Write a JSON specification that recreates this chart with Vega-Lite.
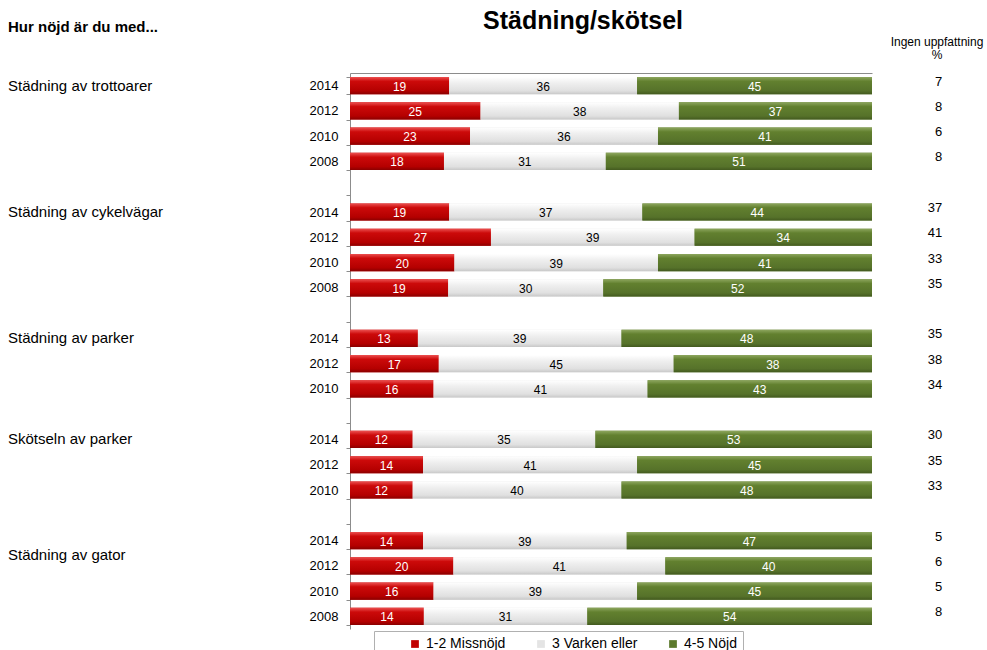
{
  "$schema": "https://vega.github.io/schema/vega-lite/v6.json",
  "padding": {"left": 8, "top": 9, "right": 0, "bottom": 0},
  "bounds": "flush",
  "spacing": 0,
  "config": {
    "view": {"stroke": null},
    "font": "Liberation Sans",
    "title": {"font": "Liberation Sans", "color": "#000000"},
    "axis": {"labelFont": "Liberation Sans", "labelColor": "#000000"},
    "legend": {"labelFont": "Liberation Sans", "labelColor": "#000000"}
  },
  "datasets": {
    "bars": [
      {"k": "Städning av trottoarer|2014", "cat": "1-2 Missnöjd", "v": 19},
      {"k": "Städning av trottoarer|2014", "cat": "3 Varken eller", "v": 36},
      {"k": "Städning av trottoarer|2014", "cat": "4-5 Nöjd", "v": 45},
      {"k": "Städning av trottoarer|2012", "cat": "1-2 Missnöjd", "v": 25},
      {"k": "Städning av trottoarer|2012", "cat": "3 Varken eller", "v": 38},
      {"k": "Städning av trottoarer|2012", "cat": "4-5 Nöjd", "v": 37},
      {"k": "Städning av trottoarer|2010", "cat": "1-2 Missnöjd", "v": 23},
      {"k": "Städning av trottoarer|2010", "cat": "3 Varken eller", "v": 36},
      {"k": "Städning av trottoarer|2010", "cat": "4-5 Nöjd", "v": 41},
      {"k": "Städning av trottoarer|2008", "cat": "1-2 Missnöjd", "v": 18},
      {"k": "Städning av trottoarer|2008", "cat": "3 Varken eller", "v": 31},
      {"k": "Städning av trottoarer|2008", "cat": "4-5 Nöjd", "v": 51},
      {"k": "Städning av cykelvägar|2014", "cat": "1-2 Missnöjd", "v": 19},
      {"k": "Städning av cykelvägar|2014", "cat": "3 Varken eller", "v": 37},
      {"k": "Städning av cykelvägar|2014", "cat": "4-5 Nöjd", "v": 44},
      {"k": "Städning av cykelvägar|2012", "cat": "1-2 Missnöjd", "v": 27},
      {"k": "Städning av cykelvägar|2012", "cat": "3 Varken eller", "v": 39},
      {"k": "Städning av cykelvägar|2012", "cat": "4-5 Nöjd", "v": 34},
      {"k": "Städning av cykelvägar|2010", "cat": "1-2 Missnöjd", "v": 20},
      {"k": "Städning av cykelvägar|2010", "cat": "3 Varken eller", "v": 39},
      {"k": "Städning av cykelvägar|2010", "cat": "4-5 Nöjd", "v": 41},
      {"k": "Städning av cykelvägar|2008", "cat": "1-2 Missnöjd", "v": 19},
      {"k": "Städning av cykelvägar|2008", "cat": "3 Varken eller", "v": 30},
      {"k": "Städning av cykelvägar|2008", "cat": "4-5 Nöjd", "v": 52},
      {"k": "Städning av parker|2014", "cat": "1-2 Missnöjd", "v": 13},
      {"k": "Städning av parker|2014", "cat": "3 Varken eller", "v": 39},
      {"k": "Städning av parker|2014", "cat": "4-5 Nöjd", "v": 48},
      {"k": "Städning av parker|2012", "cat": "1-2 Missnöjd", "v": 17},
      {"k": "Städning av parker|2012", "cat": "3 Varken eller", "v": 45},
      {"k": "Städning av parker|2012", "cat": "4-5 Nöjd", "v": 38},
      {"k": "Städning av parker|2010", "cat": "1-2 Missnöjd", "v": 16},
      {"k": "Städning av parker|2010", "cat": "3 Varken eller", "v": 41},
      {"k": "Städning av parker|2010", "cat": "4-5 Nöjd", "v": 43},
      {"k": "Skötseln av parker|2014", "cat": "1-2 Missnöjd", "v": 12},
      {"k": "Skötseln av parker|2014", "cat": "3 Varken eller", "v": 35},
      {"k": "Skötseln av parker|2014", "cat": "4-5 Nöjd", "v": 53},
      {"k": "Skötseln av parker|2012", "cat": "1-2 Missnöjd", "v": 14},
      {"k": "Skötseln av parker|2012", "cat": "3 Varken eller", "v": 41},
      {"k": "Skötseln av parker|2012", "cat": "4-5 Nöjd", "v": 45},
      {"k": "Skötseln av parker|2010", "cat": "1-2 Missnöjd", "v": 12},
      {"k": "Skötseln av parker|2010", "cat": "3 Varken eller", "v": 40},
      {"k": "Skötseln av parker|2010", "cat": "4-5 Nöjd", "v": 48},
      {"k": "Städning av gator|2014", "cat": "1-2 Missnöjd", "v": 14},
      {"k": "Städning av gator|2014", "cat": "3 Varken eller", "v": 39},
      {"k": "Städning av gator|2014", "cat": "4-5 Nöjd", "v": 47},
      {"k": "Städning av gator|2012", "cat": "1-2 Missnöjd", "v": 20},
      {"k": "Städning av gator|2012", "cat": "3 Varken eller", "v": 41},
      {"k": "Städning av gator|2012", "cat": "4-5 Nöjd", "v": 40},
      {"k": "Städning av gator|2010", "cat": "1-2 Missnöjd", "v": 16},
      {"k": "Städning av gator|2010", "cat": "3 Varken eller", "v": 39},
      {"k": "Städning av gator|2010", "cat": "4-5 Nöjd", "v": 45},
      {"k": "Städning av gator|2008", "cat": "1-2 Missnöjd", "v": 14},
      {"k": "Städning av gator|2008", "cat": "3 Varken eller", "v": 31},
      {"k": "Städning av gator|2008", "cat": "4-5 Nöjd", "v": 54}
    ],
    "ingen": [
      {"k": "Städning av trottoarer|2014", "n": 7},
      {"k": "Städning av trottoarer|2012", "n": 8},
      {"k": "Städning av trottoarer|2010", "n": 6},
      {"k": "Städning av trottoarer|2008", "n": 8},
      {"k": "Städning av cykelvägar|2014", "n": 37},
      {"k": "Städning av cykelvägar|2012", "n": 41},
      {"k": "Städning av cykelvägar|2010", "n": 33},
      {"k": "Städning av cykelvägar|2008", "n": 35},
      {"k": "Städning av parker|2014", "n": 35},
      {"k": "Städning av parker|2012", "n": 38},
      {"k": "Städning av parker|2010", "n": 34},
      {"k": "Skötseln av parker|2014", "n": 30},
      {"k": "Skötseln av parker|2012", "n": 35},
      {"k": "Skötseln av parker|2010", "n": 33},
      {"k": "Städning av gator|2014", "n": 5},
      {"k": "Städning av gator|2012", "n": 6},
      {"k": "Städning av gator|2010", "n": 5},
      {"k": "Städning av gator|2008", "n": 8}
    ],
    "labels": [
      {"k": "Städning av trottoarer|2014", "name": "Städning av trottoarer"},
      {"k": "Städning av cykelvägar|2014", "name": "Städning av cykelvägar"},
      {"k": "Städning av parker|2014", "name": "Städning av parker"},
      {"k": "Skötseln av parker|2014", "name": "Skötseln av parker"},
      {"k": "Städning av gator|2014", "name": "Städning av gator"}
    ]
  },
  "hconcat": [
    {
      "width": 342,
      "height": 556,
      "title": {"text": "Hur nöjd är du med...", "fontSize": 15, "fontWeight": "bold", "anchor": "start", "offset": 38},
      "data": {"name": "labels"},
      "layer": [
        {
          "transform": [{"filter": "datum.name !== 'Städning av gator'"}],
          "mark": {"type": "text", "align": "left", "baseline": "middle", "fontSize": 15, "color": "#000000"},
          "encoding": {
            "x": {"datum": 0, "type": "quantitative", "scale": {"domain": [0, 1]}, "axis": null},
            "y": {"field": "k", "type": "nominal", "axis": null, "sort": null,
              "scale": {"paddingInner": 0, "paddingOuter": 0, "domain": ["Städning av trottoarer|2014","Städning av trottoarer|2012","Städning av trottoarer|2010","Städning av trottoarer|2008","g1|","Städning av cykelvägar|2014","Städning av cykelvägar|2012","Städning av cykelvägar|2010","Städning av cykelvägar|2008","g2|","Städning av parker|2014","Städning av parker|2012","Städning av parker|2010","g3|","Skötseln av parker|2014","Skötseln av parker|2012","Skötseln av parker|2010","g4|","Städning av gator|2014","Städning av gator|2012","Städning av gator|2010","Städning av gator|2008"]}},
            "text": {"field": "name"}
          }
        },
        {
          "transform": [{"filter": "datum.name === 'Städning av gator'"}],
          "mark": {"type": "text", "align": "left", "baseline": "middle", "fontSize": 15, "color": "#000000", "dy": 14},
          "encoding": {
            "x": {"datum": 0, "type": "quantitative", "scale": {"domain": [0, 1]}, "axis": null},
            "y": {"field": "k", "type": "nominal", "axis": null, "sort": null},
            "text": {"field": "name"}
          }
        }
      ]
    },
    {
      "width": 522,
      "height": 556,
      "title": {"text": "Städning/skötsel", "fontSize": 25, "fontWeight": "bold", "anchor": "middle", "dx": -28, "offset": 33},
      "data": {"name": "bars"},
      "transform": [
        {"stack": "v", "groupby": ["k"], "sort": [{"field": "cat", "order": "ascending"}], "offset": "normalize", "as": ["x0", "x1"]}
      ],
      "encoding": {
        "y": {"field": "k", "type": "nominal", "sort": null,
          "scale": {"paddingInner": 0.32, "paddingOuter": 0.16, "domain": ["Städning av trottoarer|2014","Städning av trottoarer|2012","Städning av trottoarer|2010","Städning av trottoarer|2008","g1|","Städning av cykelvägar|2014","Städning av cykelvägar|2012","Städning av cykelvägar|2010","Städning av cykelvägar|2008","g2|","Städning av parker|2014","Städning av parker|2012","Städning av parker|2010","g3|","Skötseln av parker|2014","Skötseln av parker|2012","Skötseln av parker|2010","g4|","Städning av gator|2014","Städning av gator|2012","Städning av gator|2010","Städning av gator|2008"]},
          "axis": {"title": null, "labelExpr": "split(datum.label, '|')[1]", "tickBand": "extent", "tickSize": 4, "tickColor": "#8c8c8c", "domainColor": "#8c8c8c", "labelFontSize": 13, "labelPadding": 8, "grid": false}
        }
      },
      "layer": [
        {
          "mark": {"type": "bar"},
          "encoding": {
            "x": {"field": "x0", "type": "quantitative", "scale": {"domain": [0, 1]},
              "axis": {"orient": "top", "title": null, "labels": false, "ticks": false, "grid": false, "domain": true, "domainColor": "#8c8c8c"}},
            "x2": {"field": "x1"},
            "color": {"field": "cat", "type": "nominal",
              "scale": {"domain": ["1-2 Missnöjd", "3 Varken eller", "4-5 Nöjd"], "range": ["#C00000", "#E4E4E4", "#5C7A2D"]},
              "legend": {"orient": "none", "legendX": 24, "legendY": 558, "direction": "horizontal", "title": null, "symbolType": "square", "symbolSize": 60, "symbolStrokeWidth": 0, "symbolOffset": 28, "labelFontSize": 14, "strokeColor": "#b0b0b0", "padding": 6, "columnPadding": -2}}
          }
        },
        {
          "transform": [{"filter": "datum.cat === '1-2 Missnöjd'"}],
          "mark": {"type": "bar", "color": {"gradient": "linear", "x1": 0, "y1": 0, "x2": 0, "y2": 1, "stops": [{"offset": 0, "color": "#EC5050"}, {"offset": 0.25, "color": "#CC0A0A"}, {"offset": 0.8, "color": "#B40000"}, {"offset": 1, "color": "#8A0000"}]}},
          "encoding": {
            "x": {"field": "x0", "type": "quantitative"},
            "x2": {"field": "x1"}
          }
        },
        {
          "transform": [{"filter": "datum.cat === '3 Varken eller'"}],
          "mark": {"type": "bar", "color": {"gradient": "linear", "x1": 0, "y1": 0, "x2": 0, "y2": 1, "stops": [{"offset": 0, "color": "#FFFFFF"}, {"offset": 0.35, "color": "#EFEFEF"}, {"offset": 0.8, "color": "#E0E0E0"}, {"offset": 1, "color": "#C8C8C8"}]}},
          "encoding": {
            "x": {"field": "x0", "type": "quantitative"},
            "x2": {"field": "x1"}
          }
        },
        {
          "transform": [{"filter": "datum.cat === '4-5 Nöjd'"}],
          "mark": {"type": "bar", "color": {"gradient": "linear", "x1": 0, "y1": 0, "x2": 0, "y2": 1, "stops": [{"offset": 0, "color": "#8DA65E"}, {"offset": 0.25, "color": "#62802F"}, {"offset": 0.8, "color": "#56722A"}, {"offset": 1, "color": "#435A1F"}]}},
          "encoding": {
            "x": {"field": "x0", "type": "quantitative"},
            "x2": {"field": "x1"}
          }
        },
        {
          "mark": {"type": "text", "baseline": "middle", "fontSize": 12, "dy": 1},
          "encoding": {
            "x": {"field": "v", "type": "quantitative", "stack": "normalize", "bandPosition": 0.5},
            "detail": {"field": "cat"},
            "order": {"field": "cat", "sort": "ascending"},
            "text": {"field": "v"},
            "color": {"condition": {"test": "datum.cat === '3 Varken eller'", "value": "#000000"}, "value": "#ffffff"}
          }
        }
      ]
    },
    {
      "width": 130,
      "height": 556,
      "title": {"text": ["Ingen uppfattning", "%"], "fontSize": 12, "fontWeight": "normal", "anchor": "middle", "offset": 11, "lineHeight": 13},
      "data": {"name": "ingen"},
      "mark": {"type": "text", "align": "right", "baseline": "middle", "fontSize": 13, "dy": -4, "color": "#000000"},
      "encoding": {
        "x": {"datum": 0.54, "type": "quantitative", "scale": {"domain": [0, 1]}, "axis": null},
        "y": {"field": "k", "type": "nominal", "axis": null, "sort": null,
          "scale": {"paddingInner": 0, "paddingOuter": 0, "domain": ["Städning av trottoarer|2014","Städning av trottoarer|2012","Städning av trottoarer|2010","Städning av trottoarer|2008","g1|","Städning av cykelvägar|2014","Städning av cykelvägar|2012","Städning av cykelvägar|2010","Städning av cykelvägar|2008","g2|","Städning av parker|2014","Städning av parker|2012","Städning av parker|2010","g3|","Skötseln av parker|2014","Skötseln av parker|2012","Skötseln av parker|2010","g4|","Städning av gator|2014","Städning av gator|2012","Städning av gator|2010","Städning av gator|2008"]}},
        "text": {"field": "n"}
      }
    }
  ],
  "resolve": {"scale": {"y": "independent", "x": "independent", "color": "independent"}, "legend": {"color": "independent"}}
}
